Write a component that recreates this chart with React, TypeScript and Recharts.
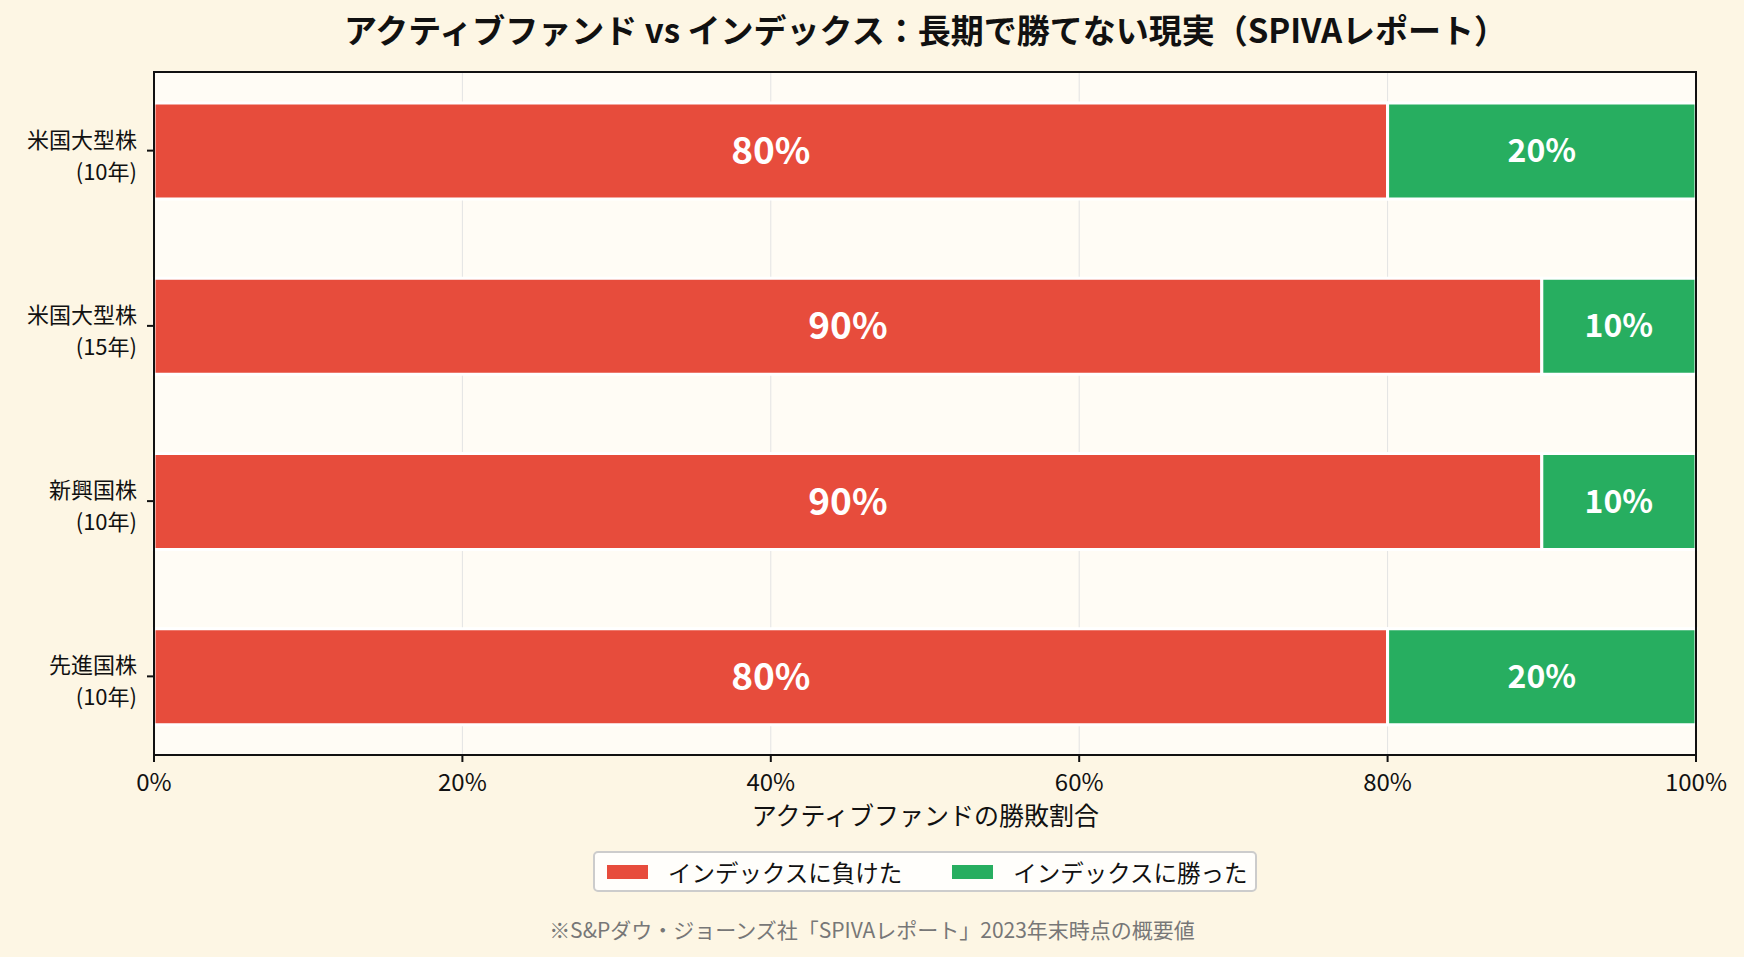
import React from 'react';
import { BarChart, Bar, XAxis, YAxis, CartesianGrid, LabelList } from 'recharts';

const categories = ['米国大型株\n(10年)', '米国大型株\n(15年)', '新興国株\n(10年)', '先進国株\n(10年)'];
const lostShare = [80, 90, 90, 80];
const wonShare = [20, 10, 10, 20];
const xTicks = [0, 20, 40, 60, 80, 100];
const seriesNames = ['インデックスに負けた', 'インデックスに勝った'];
const seriesColors = ['#E74C3C', '#27AE60'];

const titleText = 'アクティブファンド vs インデックス：長期で勝てない現実（SPIVAレポート）';
const xLabelText = 'アクティブファンドの勝敗割合';
const noteText = '※S&Pダウ・ジョーンズ社「SPIVAレポート」2023年末時点の概要値';

const data = categories.map((name, i) => ({ name, lost: lostShare[i], won: wonShare[i] }));

const FONT = '"Noto Sans CJK JP", "Noto Sans", sans-serif';

// two-line category label, right aligned against the tick
function yTick({ x, y, payload }: any) {
  const lines = String(payload.value).split('\n');
  return (
    <foreignObject x={x - 150} y={y - 29} width={150} height={66}>
      <div
        style={{
          textAlign: 'right',
          fontSize: 22,
          lineHeight: '32px',
          color: '#111',
          fontFamily: FONT,
          whiteSpace: 'nowrap',
        }}>
        {lines[0]}
        <br />
        {lines[1]}
      </div>
    </foreignObject>
  );
}

function barLabel(size: number) {
  return ({ x, y, width, height, value }: any) => (
    <text
      x={x + width / 2}
      y={y + height / 2 - 3}
      textAnchor='middle'
      dominantBaseline='central'
      fill='#fff'
      fontWeight='bold'
      fontSize={size}
      fontFamily={FONT}>
      {value}%
    </text>
  );
}

export default function App() {
  return (
    <div style={{ position: 'fixed', left: 0, top: 0, width: 1744, height: 957, background: '#FDF6E4', fontFamily: FONT }}>
      <div
        style={{
          position: 'absolute',
          left: 155,
          width: 1541,
          top: 9,
          textAlign: 'center',
          fontSize: 33,
          fontWeight: 'bold',
          color: '#111',
          lineHeight: '40px',
        }}>
        {titleText}
      </div>
      <BarChart
        width={1744}
        height={957}
        data={data}
        layout='vertical'
        margin={{ top: 72, right: 48, bottom: 0, left: 0 }}
        style={{ position: 'absolute', left: 0, top: 0 }}>
        <CartesianGrid horizontal={false} stroke='#E3E3E3' strokeWidth={1} fill='#FFFCF5' fillOpacity={1} />
        <XAxis
          type='number'
          domain={[0, 100]}
          ticks={xTicks}
          tickFormatter={(v) => `${v}%`}
          height={202}
          tickSize={7}
          tickMargin={12}
          axisLine={{ stroke: '#111', strokeWidth: 2 }}
          tickLine={{ stroke: '#111', strokeWidth: 2 }}
          tick={{ fill: '#111', fontSize: 24, fontFamily: FONT }}
          interval={0}
        />
        <YAxis
          type='category'
          dataKey='name'
          width={154}
          tickSize={7}
          tickMargin={10}
          padding={{ top: -9, bottom: -9 }}
          axisLine={{ stroke: '#111', strokeWidth: 2 }}
          tickLine={{ stroke: '#111', strokeWidth: 2 }}
          tick={yTick}
          interval={0}
        />
        <Bar dataKey='lost' name={seriesNames[0]} stackId='s' fill={seriesColors[0]} stroke='#fff' strokeWidth={3} barSize={96} isAnimationActive={false}>
          <LabelList dataKey='lost' content={barLabel(37)} />
        </Bar>
        <Bar dataKey='won' name={seriesNames[1]} stackId='s' fill={seriesColors[1]} stroke='#fff' strokeWidth={3} barSize={96} isAnimationActive={false}>
          <LabelList dataKey='won' content={barLabel(32)} />
        </Bar>
      </BarChart>
      {/* plot frame (top and right spines) */}
      <div
        style={{
          position: 'absolute',
          left: 153,
          top: 71,
          width: 1544,
          height: 685,
          boxSizing: 'border-box',
          border: '2px solid #111',
          pointerEvents: 'none',
        }}
      />
      <div
        style={{
          position: 'absolute',
          left: 155,
          width: 1541,
          top: 798,
          textAlign: 'center',
          fontSize: 25,
          color: '#111',
          lineHeight: '32px',
        }}>
        {xLabelText}
      </div>
      <div
        style={{
          position: 'absolute',
          left: 593,
          top: 851,
          width: 664,
          height: 41,
          boxSizing: 'border-box',
          border: '2px solid #CCCCCC',
          borderRadius: 5,
          background: 'rgba(255,255,255,0.85)',
          display: 'flex',
          alignItems: 'center',
          fontSize: 23.5,
          color: '#111',
        }}>
        {seriesNames.map((n, i) => (
          <div key={n} style={{ display: 'flex', alignItems: 'center', marginLeft: i === 0 ? 12 : 50 }}>
            <span style={{ display: 'inline-block', width: 41, height: 14, background: seriesColors[i], marginRight: 20 }} />
            <span>{n}</span>
          </div>
        ))}
      </div>
      <div
        style={{
          position: 'absolute',
          left: 0,
          width: 1744,
          top: 914,
          textAlign: 'center',
          fontSize: 21,
          color: '#777',
          lineHeight: '30px',
        }}>
        {noteText}
      </div>
    </div>
  );
}
